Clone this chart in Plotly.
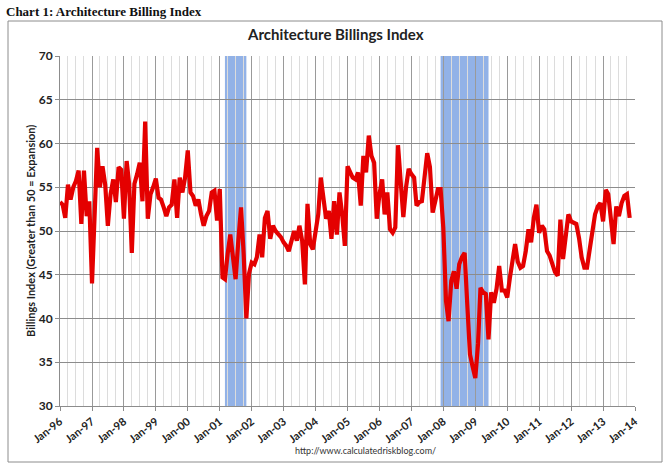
import pandas as pd
import plotly.graph_objects as go

# Monthly Architecture Billings Index values, Jan-96 .. Nov-13
abi_1996_1998 = [53.3, 53.0, 51.5, 55.3, 53.6, 55.0, 55.7, 56.9, 50.8, 56.9, 51.7, 53.4,
                 44.0, 52.0, 59.5, 55.0, 57.4, 55.3, 50.6, 54.2, 55.9, 53.3, 57.3, 57.0,
                 51.4, 58.0, 55.4, 47.5, 55.4, 56.5, 57.8, 53.4, 62.5, 51.4, 54.2, 55.0]
abi_1999_2001 = [56.0, 53.8, 53.6, 52.7, 51.7, 52.7, 53.0, 55.9, 51.5, 56.1, 54.4, 56.1,
                 59.2, 54.4, 54.0, 52.9, 53.6, 51.9, 50.6, 51.7, 52.3, 54.4, 54.6, 51.2,
                 54.8, 44.7, 44.5, 47.4, 49.6, 47.0, 44.5, 48.9, 52.7, 47.4, 40.0, 45.1]
abi_2002_2004 = [46.4, 46.2, 47.0, 49.6, 47.0, 51.5, 52.3, 49.1, 50.6, 50.0, 49.6, 49.3,
                 48.7, 48.3, 47.7, 48.9, 50.0, 48.9, 50.6, 48.9, 43.9, 53.1, 48.5, 47.9,
                 49.6, 51.9, 56.1, 53.4, 51.4, 52.3, 49.1, 53.4, 49.6, 54.4, 51.9, 48.3]
abi_2005_2007 = [57.4, 56.7, 56.1, 55.9, 56.7, 52.9, 58.6, 56.7, 60.9, 58.6, 57.8, 51.4,
                 54.2, 55.9, 51.9, 54.4, 50.2, 49.8, 50.4, 59.8, 54.8, 51.6, 55.0, 57.1,
                 56.5, 56.1, 52.9, 53.3, 53.4, 56.5, 58.9, 57.3, 52.1, 53.4, 54.8, 54.8]
abi_2008_2010 = [50.4, 42.0, 39.7, 44.3, 45.4, 43.4, 46.2, 47.0, 47.5, 41.6, 35.9, 34.5,
                 33.2, 37.1, 43.5, 43.0, 42.8, 37.6, 43.0, 41.8, 43.4, 46.0, 43.2, 43.2,
                 42.4, 44.7, 46.6, 48.5, 46.5, 45.8, 46.0, 47.7, 50.2, 48.7, 51.5, 53.0]
abi_2011_2013 = [49.8, 50.6, 50.2, 47.7, 47.2, 46.4, 45.3, 44.9, 51.3, 46.8, 50.0, 51.9,
                 51.1, 50.9, 50.8, 49.2, 47.0, 45.8, 45.8, 47.9, 50.0, 51.9, 52.8, 53.2,
                 51.1, 54.7, 54.2, 51.5, 48.5, 52.8, 51.7, 53.2, 54.0, 54.2, 51.5]

start_month = "1996-01-01"
recession_starts = ["2001-03-01", "2007-12-01"]
recession_ends = ["2001-11-01", "2009-06-01"]

values = (abi_1996_1998 + abi_1999_2001 + abi_2002_2004 +
          abi_2005_2007 + abi_2008_2010 + abi_2011_2013)
dates = pd.date_range(start_month, periods=len(values), freq="MS")

fig = go.Figure()
fig.add_trace(go.Scatter(x=dates, y=values, mode="lines",
                         line=dict(color="rgb(228,0,0)", width=4.2),
                         hoverinfo="skip", showlegend=False))

shapes = []
for s, e in zip(recession_starts, recession_ends):
    shapes.append(dict(type="rect", xref="x", yref="paper", x0=s, x1=e, y0=0, y1=1,
                       fillcolor="rgb(134,170,228)", opacity=0.9,
                       line=dict(width=0), layer="between"))

L, R, T, B = 60, 30, 56, 69
W, H = 665, 475
pw, ph = W - L - R, H - T - B

def px(x):
    return (x - L) / pw

def py(y):
    return (H - B - y) / ph

# outer chart border
shapes.append(dict(type="rect", xref="paper", yref="paper",
                   x0=px(8), x1=px(662), y0=py(462), y1=py(21),
                   line=dict(color="#8c8c8c", width=1), fillcolor="rgba(0,0,0,0)", layer="below"))

fig.update_layout(
    width=W, height=H,
    margin=dict(l=L, r=R, t=T, b=B),
    paper_bgcolor="white", plot_bgcolor="rgba(0,0,0,0)",
    shapes=shapes,
    font=dict(family="Lato, Open Sans, sans-serif", color="#222"),
    annotations=[
        dict(text="<b>Chart 1: Architecture Billing Index</b>", xref="paper", yref="paper",
             x=px(4), y=py(11), xanchor="left", yanchor="middle", showarrow=False,
             font=dict(family="Liberation Serif, Times New Roman, serif", size=13, color="#111")),
        dict(text="<b>Architecture Billings Index</b>", xref="paper", yref="paper",
             x=px(335), y=py(34), xanchor="center", yanchor="middle", showarrow=False,
             font=dict(family="Lato, sans-serif", size=15, color="#222")),
        dict(text="<b>Billings Index (Greater than 50 = Expansion)</b>", xref="paper", yref="paper",
             x=px(30), y=py(231), xanchor="center", yanchor="middle", showarrow=False,
             textangle=-90, font=dict(family="Lato, sans-serif", size=11, color="#222")),
        dict(text="http://www.calculatedriskblog.com/", xref="paper", yref="paper",
             x=px(365), y=py(450), xanchor="center", yanchor="middle", showarrow=False,
             font=dict(family="Lato, sans-serif", size=9, color="#333")),
    ],
)

fig.update_xaxes(
    type="date", range=["1996-01-01", "2014-01-01"],
    dtick="M12", tick0="1996-01-01", tickformat="%b-%y", tickangle=-38,
    showgrid=True, gridcolor="#9a9a9a", gridwidth=1,
    minor=dict(dtick="M3", showgrid=True, gridcolor="#dcdcdc", ticks=""),
    showline=True, linecolor="#8c8c8c", linewidth=1,
    ticks="outside", ticklen=4, tickcolor="#8c8c8c",
    tickfont=dict(size=11, weight="bold", color="#222"),
    zeroline=False, automargin=False,
)
fig.update_yaxes(
    range=[30, 70], dtick=5, tick0=30,
    showgrid=True, gridcolor="#8c8c8c", gridwidth=1,
    showline=True, linecolor="#8c8c8c", linewidth=1,
    ticks="outside", ticklen=4, tickcolor="#8c8c8c",
    tickfont=dict(size=12, weight="bold", color="#222"),
    zeroline=False, automargin=False,
)

fig.write_html("out.html", config={"displayModeBar": False},
               post_script="document.body.style.margin='0';document.body.style.overflow='hidden';")
